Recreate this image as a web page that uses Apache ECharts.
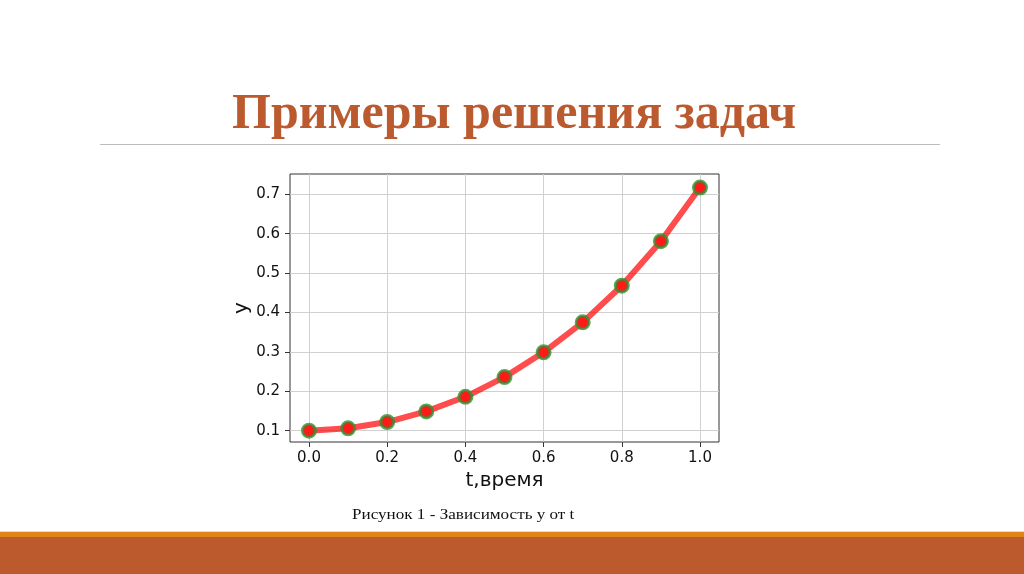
<!DOCTYPE html>
<html><head><meta charset="utf-8">
<script src="https://cdn.jsdelivr.net/npm/echarts@6/dist/echarts.min.js"></script>
<style>html,body{margin:0;padding:0;background:#fff}#c{width:1024px;height:574px}</style>
</head><body><div id="c"></div>
<script>
const tValues = [0.0, 0.1, 0.2, 0.3, 0.4, 0.5, 0.6, 0.7, 0.8, 0.9, 1.0];
const yValues = [0.100, 0.106, 0.122, 0.149, 0.186, 0.236, 0.299, 0.375, 0.468, 0.581, 0.717];
const xTicks = [0.0, 0.2, 0.4, 0.6, 0.8, 1.0];
const yTicks = [0.1, 0.2, 0.3, 0.4, 0.5, 0.6, 0.7];
const titleText = 'Примеры решения задач';
const captionText = 'Рисунок 1 - Зависимость у от t';
const xName = 't,время';
const yName = 'y';

const chart = echarts.init(document.getElementById('c'));
const tickFont = {fontFamily:'DejaVu Sans', fontSize:15, color:'#111'};
chart.setOption({
  animation:false,
  grid:{left:290, top:174, width:429, height:268, show:true, borderColor:'#333', borderWidth:1, backgroundColor:'#fff'},
  xAxis:{type:'value', min:-0.0486, max:1.0486,
    name:xName, nameLocation:'middle', nameGap:29, nameTextStyle:{fontFamily:'DejaVu Sans', fontSize:20, color:'#111'},
    axisLine:{show:false, onZero:false},
    axisTick:{show:true, inside:false, length:5, lineStyle:{color:'#333'}, customValues:xTicks},
    axisLabel:Object.assign({customValues:xTicks, margin:9, formatter:v=>v.toFixed(1)}, tickFont),
    splitLine:{show:true, lineStyle:{color:'#d0d0d0', width:1}}
  },
  yAxis:{type:'value', min:0.0713, max:0.7515,
    name:yName, nameLocation:'middle', nameGap:35, nameRotate:90, nameTextStyle:{fontFamily:'DejaVu Sans', fontSize:20, color:'#111'},
    axisLine:{show:false, onZero:false},
    axisTick:{show:true, inside:false, length:5, lineStyle:{color:'#333'}, customValues:yTicks},
    axisLabel:Object.assign({customValues:yTicks, margin:10, formatter:v=>v.toFixed(1)}, tickFont),
    splitLine:{show:true, lineStyle:{color:'#d0d0d0', width:1}}
  },
  series:[{type:'line', data:tValues.map((t,i)=>[t,yValues[i]]),
    lineStyle:{color:'rgba(255,0,0,0.7)', width:6},
    symbol:'circle', symbolSize:13,
    itemStyle:{color:'#ff1a1a', borderColor:'rgba(50,145,50,0.8)', borderWidth:3},
    z:3
  }],
  graphic:[
    {type:'text', left:232, top:90, style:{text:titleText, fill:'#BA5A2E', font:'bold 50px "Liberation Serif"'}},
    {type:'rect', shape:{x:100, y:144, width:840, height:1}, style:{fill:'#bcbcbc'}},
    {type:'text', x:352, y:508, scaleX:1.14, style:{text:captionText, fill:'#111', font:'15px "Liberation Serif"'}},
    {type:'rect', shape:{x:0, y:531, width:1024, height:1}, style:{fill:'#f3d9b8'}},
    {type:'rect', shape:{x:0, y:532, width:1024, height:5}, style:{fill:'#E08417'}},
    {type:'rect', shape:{x:0, y:537, width:1024, height:37}, style:{fill:'#BD5A2D'}}
  ]
});
</script></body></html>
